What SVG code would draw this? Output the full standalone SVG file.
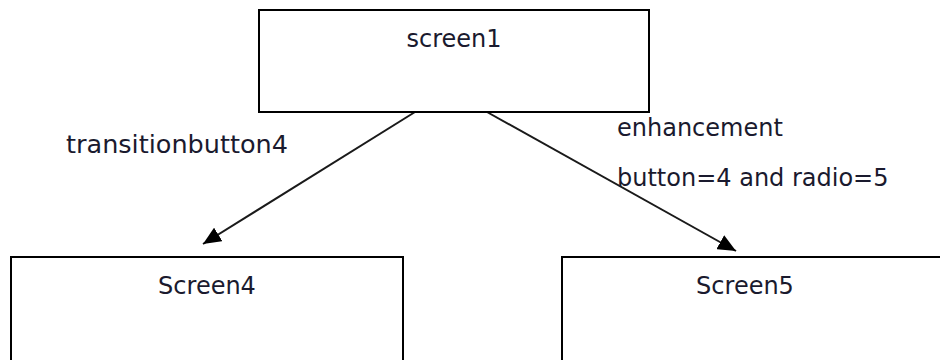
<svg xmlns="http://www.w3.org/2000/svg" width="940" height="360" viewBox="0 0 940 360">
<defs>
<style>
.box{fill:#fff;stroke:#000;stroke-width:2}
.t{font-family:"DejaVu Sans","Verdana",sans-serif;font-size:24px;fill:#1a1a2e}
.c{stroke:#1a1a1a;stroke-width:2;fill:none}
</style>
<marker id="ah" markerUnits="userSpaceOnUse" markerWidth="20" markerHeight="16" refX="18" refY="8" orient="auto">
<path d="M0,0 L18,8 L0,16 z" fill="#000"/>
</marker>
</defs>
<rect width="940" height="360" fill="#fff"/>
<g id="connectors">
<line class="c" x1="415" y1="112" x2="203" y2="244" marker-end="url(#ah)"/>
<line class="c" x1="487" y1="112" x2="736" y2="251" marker-end="url(#ah)"/>
<text class="t" x="66" y="153" textLength="222" lengthAdjust="spacingAndGlyphs">transitionbutton4</text>
<text class="t" x="617" y="136">enhancement</text>
<text class="t" x="617" y="186">button=4 and radio=5</text>
</g>
<g id="screen1">
<rect class="box" x="259" y="10" width="390" height="102"/>
<text class="t" x="454" y="47" text-anchor="middle">screen1</text>
</g>
<g id="screen4">
<rect class="box" x="11" y="257" width="392" height="105"/>
<text class="t" x="207" y="294" text-anchor="middle">Screen4</text>
</g>
<g id="screen5">
<rect class="box" x="562" y="257" width="390" height="105"/>
<text class="t" x="745" y="294" text-anchor="middle">Screen5</text>
</g>
</svg>
